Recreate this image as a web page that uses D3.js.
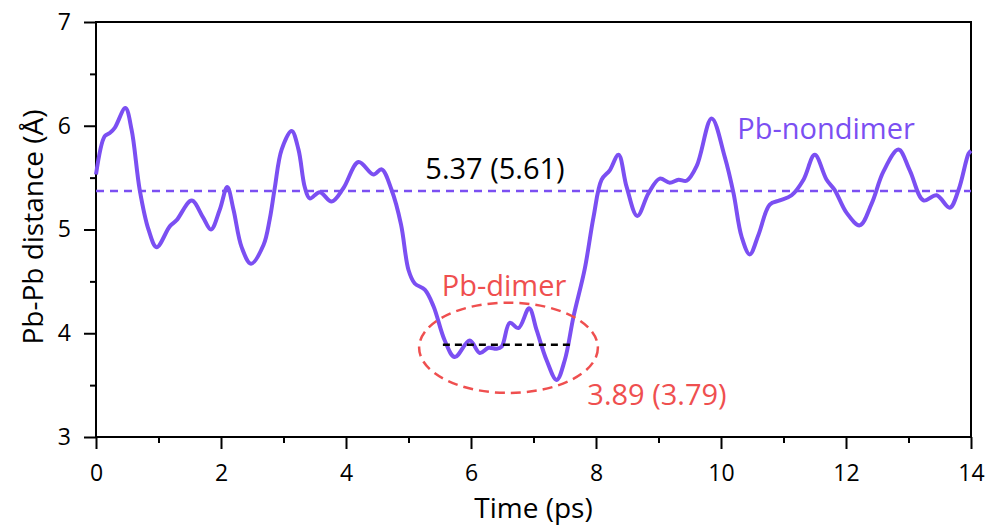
<!DOCTYPE html>
<html>
<head>
<meta charset="utf-8">
<script src="https://cdn.jsdelivr.net/npm/d3@7"></script>
<style>
  body { margin: 0; background: #fff; }
  svg text { font-family: "Open Sans", sans-serif; }
</style>
</head>
<body>
<svg id="chart" width="990" height="526"></svg>
<script>
// Pb-Pb distance trajectory
var time = [0.00, 0.14, 0.22, 0.30, 0.47, 0.57, 0.70, 0.84, 0.97, 1.18, 1.29, 1.53, 1.71, 1.84, 1.98, 2.10,
  2.20, 2.33, 2.48, 2.68, 2.78, 2.86, 2.97, 3.13, 3.24, 3.34, 3.42, 3.58, 3.77, 3.96, 4.20, 4.44, 4.57,
  4.73, 4.88, 5.00, 5.10, 5.26, 5.40, 5.58, 5.74, 5.98, 6.14, 6.28, 6.41, 6.49, 6.62, 6.76, 6.93, 7.05,
  7.21, 7.37, 7.50, 7.64, 7.82, 7.96, 8.09, 8.22, 8.36, 8.49, 8.66, 8.84, 9.02, 9.18, 9.32, 9.45, 9.61,
  9.85, 10.06, 10.20, 10.33, 10.46, 10.60, 10.78, 10.94, 11.13, 11.32, 11.50, 11.69, 11.82, 12.01, 12.22,
  12.41, 12.60, 12.84, 13.02, 13.24, 13.45, 13.66, 13.80, 13.96, 14.00];
var dist = [5.53, 5.90, 5.93, 5.98, 6.17, 5.96, 5.38, 5.00, 4.83, 5.03, 5.09, 5.28, 5.12, 5.00, 5.19, 5.41,
  5.19, 4.83, 4.67, 4.85, 5.10, 5.40, 5.77, 5.95, 5.77, 5.41, 5.30, 5.36, 5.27, 5.40, 5.65, 5.53, 5.58,
  5.38, 5.05, 4.61, 4.48, 4.42, 4.26, 3.93, 3.77, 3.93, 3.81, 3.86, 3.85, 3.87, 4.10, 4.05, 4.24, 4.03,
  3.74, 3.55, 3.74, 4.16, 4.62, 5.12, 5.48, 5.57, 5.72, 5.41, 5.13, 5.35, 5.49, 5.45, 5.48, 5.47, 5.61,
  6.07, 5.70, 5.35, 4.93, 4.76, 4.95, 5.24, 5.28, 5.33, 5.48, 5.72, 5.48, 5.38, 5.16, 5.04,
  5.25, 5.56, 5.77, 5.57, 5.28, 5.33, 5.21, 5.38, 5.73, 5.76];

var nondimerMean = 5.37;
var dimerMean = 3.89;
var dimerSpan = [5.55, 7.62];
var nondimerLabel = "Pb-nondimer";
var dimerLabel = "Pb-dimer";
var nondimerValue = "5.37 (5.61)";
var dimerValue = "3.89 (3.79)";

var xTicks = [0, 2, 4, 6, 8, 10, 12, 14];
var yTicks = [3, 4, 5, 6, 7];

var purple = "#7b4ff2";
var red = "#ef4f4f";

var svg = d3.select("#chart");
var x = d3.scaleLinear().domain([0, 14]).range([96, 971]);
var y = d3.scaleLinear().domain([3, 7]).range([437, 22]);

// minor ticks
svg.append("g")
  .attr("transform", "translate(0,437)")
  .call(d3.axisBottom(x).tickValues(d3.range(1, 14, 2)).tickSize(6).tickSizeOuter(0).tickFormat(""))
  .call(g => g.select(".domain").remove())
  .call(g => g.selectAll("line").attr("stroke-width", 2));
svg.append("g")
  .attr("transform", "translate(96,0)")
  .call(d3.axisLeft(y).tickValues([3.5, 4.5, 5.5, 6.5]).tickSize(6).tickSizeOuter(0).tickFormat(""))
  .call(g => g.select(".domain").remove())
  .call(g => g.selectAll("line").attr("stroke-width", 2));

// major ticks
svg.append("g")
  .attr("transform", "translate(0,437)")
  .call(d3.axisBottom(x).tickValues(xTicks).tickSize(12).tickSizeOuter(0).tickPadding(16).tickFormat(d3.format("d")))
  .call(g => g.select(".domain").remove())
  .call(g => g.selectAll("line").attr("stroke-width", 2))
  .call(g => g.selectAll("text").attr("font-size", 23).attr("fill", "#000"));
svg.append("g")
  .attr("transform", "translate(96,0)")
  .call(d3.axisLeft(y).tickValues(yTicks).tickSize(12).tickSizeOuter(0).tickPadding(13).tickFormat(d3.format("d")))
  .call(g => g.select(".domain").remove())
  .call(g => g.selectAll("line").attr("stroke-width", 2))
  .call(g => g.selectAll("text").attr("font-size", 23).attr("fill", "#000"));

// frame
svg.append("rect")
  .attr("x", x(0)).attr("y", y(7))
  .attr("width", x(14) - x(0)).attr("height", y(3) - y(7))
  .attr("fill", "none").attr("stroke", "#000").attr("stroke-width", 2);

// axis titles
svg.append("text")
  .attr("x", (x(0) + x(14)) / 2).attr("y", 518)
  .attr("text-anchor", "middle").attr("font-size", 28)
  .text("Time (ps)");
svg.append("text")
  .attr("transform", "translate(43,227) rotate(-90)")
  .attr("text-anchor", "middle").attr("font-size", 28)
  .text("Pb-Pb distance (Å)");

// mean lines
svg.append("line")
  .attr("x1", x(0)).attr("x2", x(14))
  .attr("y1", y(nondimerMean)).attr("y2", y(nondimerMean))
  .attr("stroke", purple).attr("stroke-width", 2.5).attr("stroke-dasharray", "8,6");

svg.append("path")
  .datum(time.map((t, i) => [t, dist[i]]))
  .attr("fill", "none")
  .attr("stroke", purple)
  .attr("stroke-width", 4)
  .attr("stroke-linejoin", "round")
  .attr("d", d3.line().x(d => x(d[0])).y(d => y(d[1])).curve(d3.curveCatmullRom.alpha(0.5)));

svg.append("line")
  .attr("x1", x(dimerSpan[0])).attr("x2", x(dimerSpan[1]))
  .attr("y1", y(dimerMean)).attr("y2", y(dimerMean))
  .attr("stroke", "#000").attr("stroke-width", 2.5).attr("stroke-dasharray", "7,5");

// dimer ellipse
svg.append("ellipse")
  .attr("cx", x(6.6)).attr("cy", y(3.86))
  .attr("rx", x(1.43) - x(0)).attr("ry", y(3) - y(3.435))
  .attr("fill", "none").attr("stroke", red).attr("stroke-width", 2.5).attr("stroke-dasharray", "10,6");

// annotations
svg.append("text").attr("x", 495).attr("y", 179).attr("text-anchor", "middle")
  .attr("font-size", 29).attr("fill", "#000").text(nondimerValue);
svg.append("text").attr("x", 826).attr("y", 139).attr("text-anchor", "middle")
  .attr("font-size", 29).attr("fill", purple).text(nondimerLabel);
svg.append("text").attr("x", 504).attr("y", 296).attr("text-anchor", "middle")
  .attr("font-size", 29).attr("fill", red).text(dimerLabel);
svg.append("text").attr("x", 657).attr("y", 405).attr("text-anchor", "middle")
  .attr("font-size", 29).attr("fill", red).text(dimerValue);
</script>
</body>
</html>
